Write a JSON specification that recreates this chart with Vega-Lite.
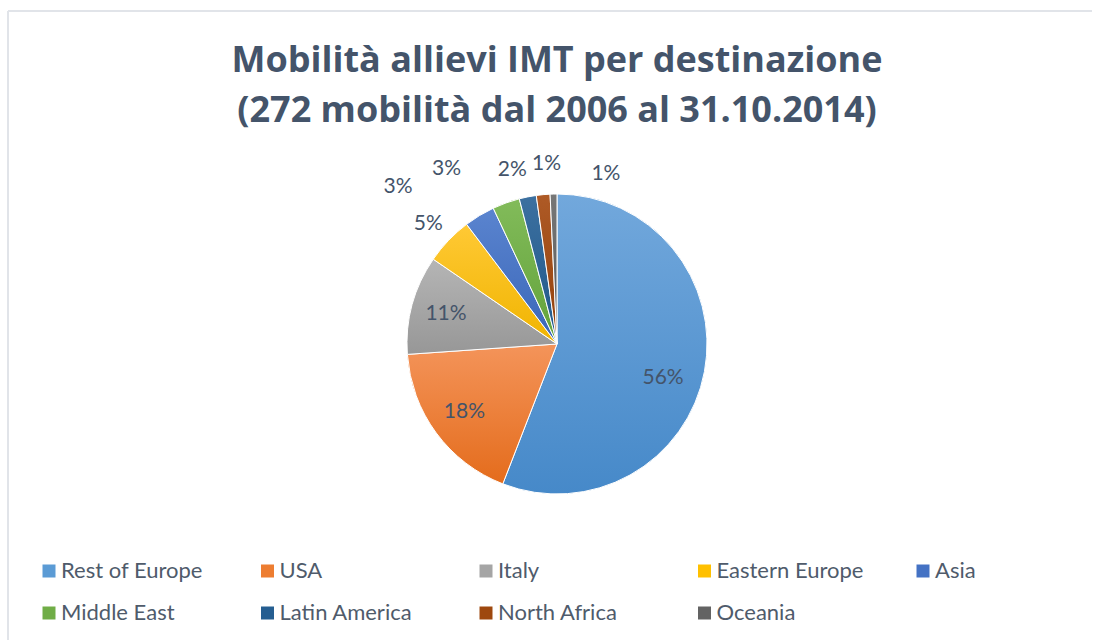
{
  "$schema": "https://vega.github.io/schema/vega-lite/v6.json",
  "width": 1084,
  "height": 629,
  "autosize": {"type": "none"},
  "padding": {"left": 8, "top": 11, "right": 0, "bottom": 0},
  "background": "white",
  "view": {"stroke": "#E1E4E9", "strokeWidth": 2, "strokeDash": [1084, 1713, 629, 0]},
  "title": {
    "text": ["Mobilità allievi IMT per destinazione", "(272 mobilità dal 2006 al 31.10.2014)"],
    "font": "Open Sans",
    "fontSize": 36,
    "fontWeight": "bold",
    "color": "#44546A",
    "anchor": "middle",
    "frame": "group",
    "offset": -118,
    "dx": 7,
    "dy": 1,
    "lineHeight": 50
  },
  "data": {
    "values": [
      {"dest": "Rest of Europe", "count": 152, "rank": 1, "label": "56%"},
      {"dest": "USA", "count": 49, "rank": 2, "label": "18%"},
      {"dest": "Italy", "count": 29, "rank": 3, "label": "11%"},
      {"dest": "Eastern Europe", "count": 14, "rank": 4, "label": "5%"},
      {"dest": "Asia", "count": 9, "rank": 5, "label": "3%"},
      {"dest": "Middle East", "count": 8, "rank": 6, "label": "3%"},
      {"dest": "Latin America", "count": 5, "rank": 7, "label": "2%"},
      {"dest": "North Africa", "count": 4, "rank": 8, "label": "1%"},
      {"dest": "Oceania", "count": 2, "rank": 9, "label": "1%"}
    ]
  },
  "encoding": {
    "theta": {"field": "count", "type": "quantitative", "stack": true},
    "order": {"field": "rank", "type": "quantitative"}
  },
  "layer": [
    {
      "mark": {"type": "arc", "radius": 150, "xOffset": 7, "yOffset": 18.5, "stroke": "white", "strokeWidth": 1},
      "encoding": {
        "color": {
          "field": "dest",
          "type": "nominal",
          "sort": null,
          "scale": {
            "domain": ["Rest of Europe", "USA", "Italy", "Eastern Europe", "Asia", "Middle East", "Latin America", "North Africa", "Oceania"],
            "range": ["#5B9BD5", "#ED7D31", "#A5A5A5", "#FFC000", "#4472C4", "#70AD47", "#255E91", "#9E480E", "#636363"]
          },
          "legend": {
            "title": null,
            "orient": "none",
            "legendX": 30,
            "legendY": 549,
            "direction": "horizontal",
            "columns": 5,
            "gridAlign": "all",
            "columnPadding": 48.5,
            "rowPadding": 20,
            "symbolType": "square",
            "symbolSize": 169,
            "symbolStrokeWidth": 0,
            "labelFont": "Lato",
            "labelFontSize": 22,
            "labelColor": "#4F5B6B",
            "labelOffset": 1,
            "labelLimit": 300
          }
        }
      }
    },
    {
      "mark": {"type": "arc", "radius": 150, "xOffset": 7, "yOffset": 18.5, "stroke": "white", "strokeWidth": 1},
      "encoding": {
        "fill": {
          "condition": [
            {"test": "datum.rank == 1", "value": {"gradient": "linear", "x1": 0, "y1": 0, "x2": 0, "y2": 1, "stops": [{"offset": 0, "color": "#72A8DC"}, {"offset": 1, "color": "#4689C9"}]}},
            {"test": "datum.rank == 2", "value": {"gradient": "linear", "x1": 0, "y1": 0, "x2": 0, "y2": 1, "stops": [{"offset": 0, "color": "#F4945A"}, {"offset": 1, "color": "#E46C1C"}]}},
            {"test": "datum.rank == 3", "value": {"gradient": "linear", "x1": 0, "y1": 0, "x2": 0, "y2": 1, "stops": [{"offset": 0, "color": "#B5B5B5"}, {"offset": 1, "color": "#979797"}]}},
            {"test": "datum.rank == 4", "value": {"gradient": "linear", "x1": 0, "y1": 0, "x2": 0, "y2": 1, "stops": [{"offset": 0, "color": "#FFC935"}, {"offset": 1, "color": "#F0B400"}]}},
            {"test": "datum.rank == 5", "value": {"gradient": "linear", "x1": 0, "y1": 0, "x2": 0, "y2": 1, "stops": [{"offset": 0, "color": "#5A84CF"}, {"offset": 1, "color": "#3A66B8"}]}},
            {"test": "datum.rank == 6", "value": {"gradient": "linear", "x1": 0, "y1": 0, "x2": 0, "y2": 1, "stops": [{"offset": 0, "color": "#82BB5A"}, {"offset": 1, "color": "#62A23A"}]}},
            {"test": "datum.rank == 7", "value": {"gradient": "linear", "x1": 0, "y1": 0, "x2": 0, "y2": 1, "stops": [{"offset": 0, "color": "#3C70A0"}, {"offset": 1, "color": "#1F5789"}]}},
            {"test": "datum.rank == 8", "value": {"gradient": "linear", "x1": 0, "y1": 0, "x2": 0, "y2": 1, "stops": [{"offset": 0, "color": "#AE5A26"}, {"offset": 1, "color": "#92400A"}]}}
          ],
          "value": {"gradient": "linear", "x1": 0, "y1": 0, "x2": 0, "y2": 1, "stops": [{"offset": 0, "color": "#777777"}, {"offset": 1, "color": "#585858"}]}
        }
      }
    },
    {
      "mark": {"type": "text", "radius": 115, "xOffset": 7, "yOffset": 18.5, "dx": -7, "dy": 13, "font": "Lato", "fontSize": 21, "color": "#44546A"},
      "encoding": {"text": {"condition": {"test": "datum.rank == 1", "field": "label"}, "value": ""}}
    },
    {
      "mark": {"type": "text", "radius": 115, "xOffset": 7, "yOffset": 18.5, "font": "Lato", "fontSize": 21, "color": "#44546A"},
      "encoding": {"text": {"condition": {"test": "datum.rank == 2 || datum.rank == 3", "field": "label"}, "value": ""}}
    },
    {
      "mark": {"type": "text", "radius": 178, "xOffset": 7, "yOffset": 18.5, "dy": 3, "font": "Lato", "fontSize": 21, "color": "#44546A"},
      "encoding": {"text": {"condition": {"test": "datum.rank == 4", "field": "label"}, "value": ""}}
    },
    {
      "mark": {"type": "text", "radius": 178, "xOffset": 7, "yOffset": 18.5, "dx": -67, "dy": -5, "font": "Lato", "fontSize": 21, "color": "#44546A"},
      "encoding": {"text": {"condition": {"test": "datum.rank == 5", "field": "label"}, "value": ""}}
    },
    {
      "mark": {"type": "text", "radius": 178, "xOffset": 7, "yOffset": 18.5, "dx": -50, "dy": -8, "font": "Lato", "fontSize": 21, "color": "#44546A"},
      "encoding": {"text": {"condition": {"test": "datum.rank == 6", "field": "label"}, "value": ""}}
    },
    {
      "mark": {"type": "text", "radius": 178, "xOffset": 7, "yOffset": 18.5, "dx": -10, "dy": 1, "font": "Lato", "fontSize": 21, "color": "#44546A"},
      "encoding": {"text": {"condition": {"test": "datum.rank == 7", "field": "label"}, "value": ""}}
    },
    {
      "mark": {"type": "text", "radius": 178, "xOffset": 7, "yOffset": 18.5, "dx": 6, "dy": -3, "font": "Lato", "fontSize": 21, "color": "#44546A"},
      "encoding": {"text": {"condition": {"test": "datum.rank == 8", "field": "label"}, "value": ""}}
    },
    {
      "mark": {"type": "text", "radius": 178, "xOffset": 7, "yOffset": 18.5, "dx": 53, "dy": 8, "font": "Lato", "fontSize": 21, "color": "#44546A"},
      "encoding": {"text": {"condition": {"test": "datum.rank == 9", "field": "label"}, "value": ""}}
    }
  ]
}
